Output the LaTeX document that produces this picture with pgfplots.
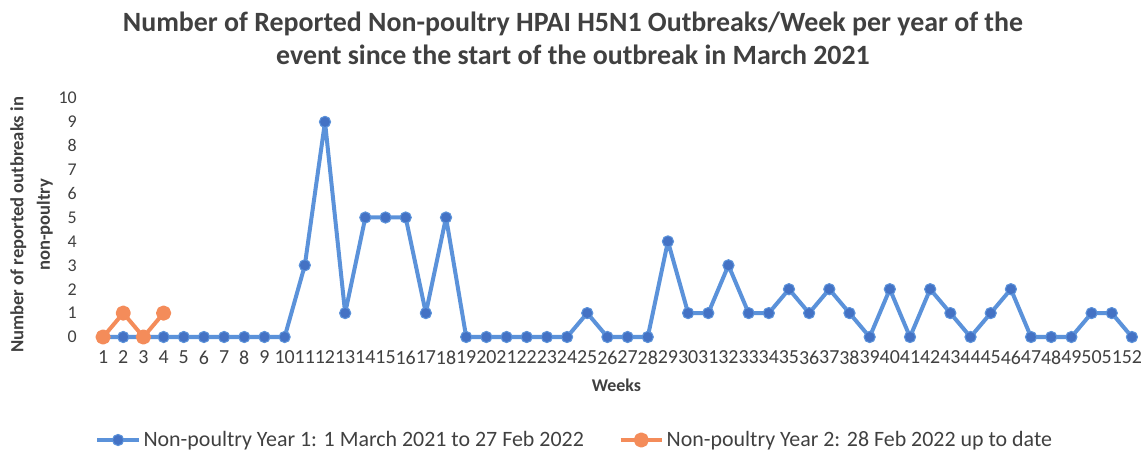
\documentclass[border=0pt]{standalone}
\usepackage{pgfplots}
\pgfplotsset{compat=1.18}
\usepackage{fontspec}
\setmainfont{Carlito}
\definecolor{lblue}{RGB}{91,146,218}
\definecolor{mblue}{RGB}{68,114,196}
\definecolor{lorange}{RGB}{244,140,90}
\definecolor{txt}{RGB}{64,64,64}
\begin{document}
\begin{tikzpicture}
\path[use as bounding box] (0,0) rectangle (858.75bp,341.25bp);
\node[align=center, text=txt, font=\fontsize{21}{24.75}\selectfont\bfseries] at (429.75bp,312.4bp)
 {Number of Reported Non-poultry HPAI H5N1 Outbreaks/Week per year of the\\event since the start of the outbreak in March 2021};
\begin{axis}[
  at={(69.75bp,88.5bp)}, anchor=south west,
  scale only axis, width=786.75bp, height=179.25bp,
  xmin=0.5, xmax=52.5, ymin=0, ymax=10,
  xtick={1,...,52}, ytick={0,...,10},
  axis line style={draw=none}, tick style={draw=none},
  clip=false,
  /pgf/number format/assume math mode=true,
  xticklabel style={font=\fontsize{15}{16}\selectfont, text=txt, inner sep=0pt, yshift=-10bp},
  yticklabel style={font=\fontsize{13.5}{15}\selectfont, text=txt, inner sep=0pt, xshift=-12bp},
  xlabel={Weeks},
  xlabel style={at={(axis description cs:0.499,-0.2)}, anchor=center, font=\fontsize{13.5}{15}\selectfont\bfseries, text=txt},
  ylabel={Number of reported outbreaks in\\non-poultry},
  ylabel style={at={(axis description cs:-0.0586,0.469)}, anchor=center, rotate=0, align=center, font=\fontsize{14}{20}\selectfont\bfseries, text=txt},
  legend columns=2,
  legend style={at={(axis description cs:0.4595,-0.431)}, anchor=center, draw=none, fill=none,
    font=\fontsize{16.5}{18}\selectfont, text=txt,
    /tikz/every even column/.append style={column sep=24bp}},
  legend image code/.code={\draw[mark repeat=2,mark phase=2] plot coordinates {(0cm,0cm)(0.55cm,0cm)(1.1cm,0cm)};},
]
\addplot[color=lblue, line width=3bp, line join=round, mark=*, mark size=4.2bp, mark options={fill=mblue, draw=lblue, line width=0.8bp}] coordinates {
(1,0)(2,0)(3,0)(4,0)(5,0)(6,0)(7,0)(8,0)(9,0)(10,0)
(11,3)(12,9)(13,1)(14,5)(15,5)(16,5)(17,1)(18,5)(19,0)(20,0)
(21,0)(22,0)(23,0)(24,0)(25,1)(26,0)(27,0)(28,0)(29,4)(30,1)
(31,1)(32,3)(33,1)(34,1)(35,2)(36,1)(37,2)(38,1)(39,0)(40,2)
(41,0)(42,2)(43,1)(44,0)(45,1)(46,2)(47,0)(48,0)(49,0)(50,1)
(51,1)(52,0)};
\addlegendentry{Non-poultry Year 1: 1 March 2021 to 27 Feb 2022}
\addplot[color=lorange, line width=3bp, line join=round, mark=*, mark size=4.2bp, mark options={fill=lorange, draw=lorange}] coordinates {
(1,0)(2,1)(3,0)(4,1)};
\addlegendentry{Non-poultry Year 2: 28 Feb 2022 up to date}
\end{axis}
\end{tikzpicture}
\end{document}
